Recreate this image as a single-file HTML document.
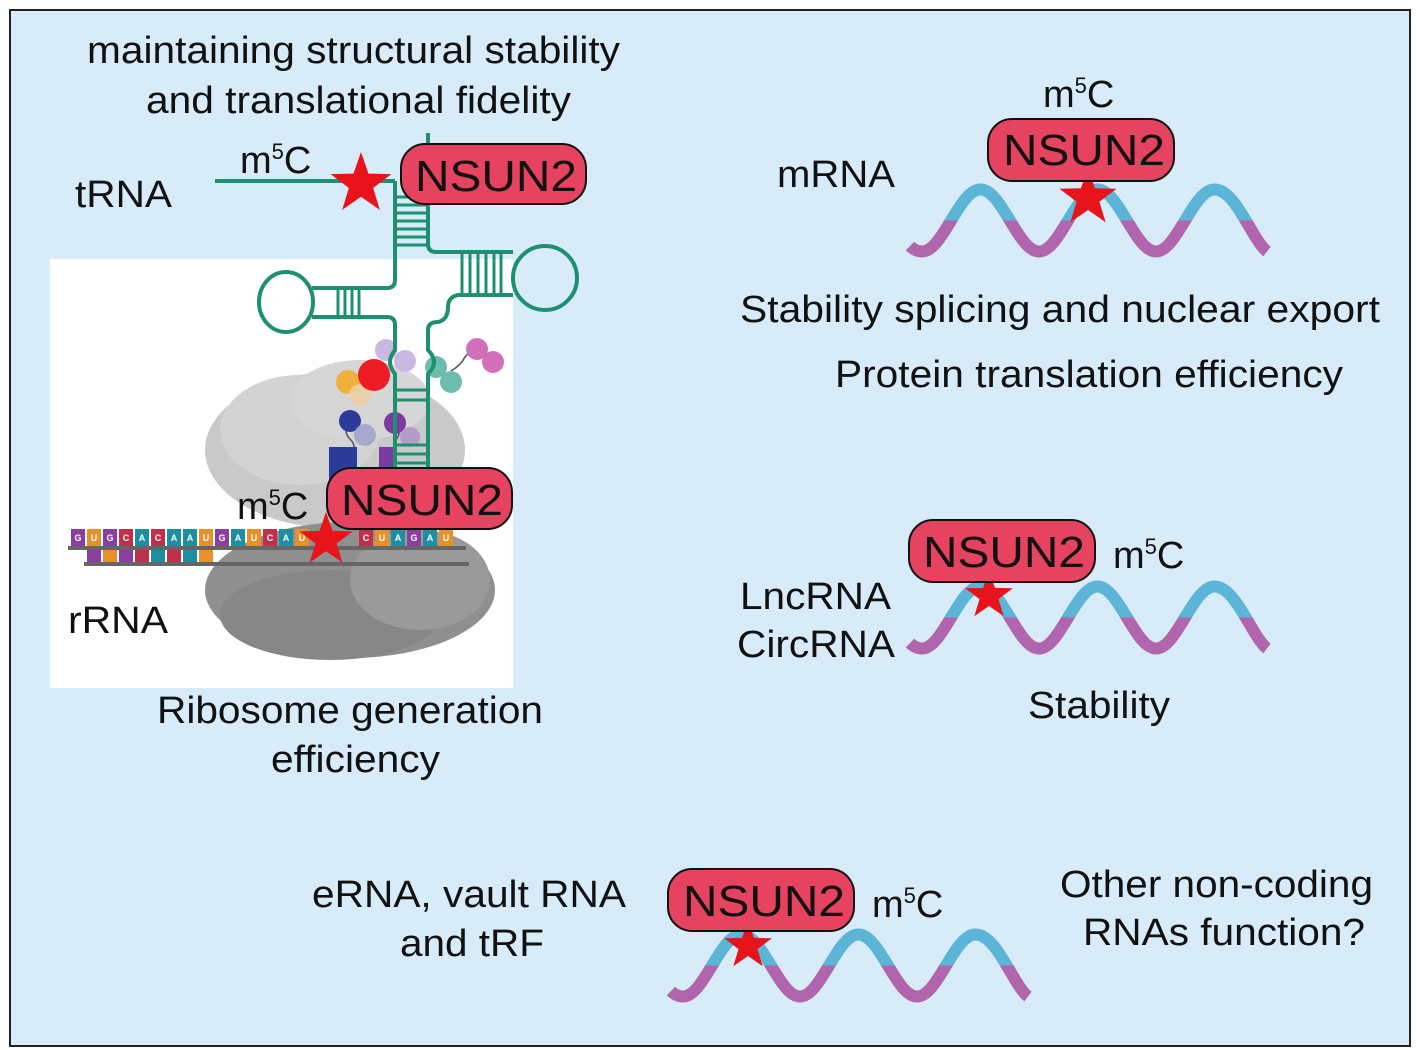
<!DOCTYPE html>
<html><head><meta charset="utf-8"><style>
html,body{margin:0;padding:0;background:#fff;}
svg{display:block;font-family:"Liberation Sans",Arial,sans-serif;}
</style></head><body>
<svg width="1417" height="1050" viewBox="0 0 1417 1050" xmlns="http://www.w3.org/2000/svg">
<defs>
<polygon id="star" points="0,-1 0.235,-0.324 0.951,-0.309 0.38,0.124 0.588,0.809 0,0.4 -0.588,0.809 -0.38,0.124 -0.951,-0.309 -0.235,-0.324" fill="#e8141c"/>
<clipPath id="topc"><rect x="0" y="0" width="2000" height="220.5"/></clipPath>
<clipPath id="botc"><rect x="0" y="220.5" width="2000" height="400"/></clipPath>
<path id="wv" d="M910,246 C914,250 918,251.5 922,251.5 C943,251.5 959,189.5 980.5,189.5 S1018,251.5 1039,251.5 S1076,189.5 1097.5,189.5 S1135,251.5 1156,251.5 S1193,189.5 1214.5,189.5 S1252,240 1267,251.5" fill="none" stroke-width="12"/>
<g id="wave">
<use href="#wv" stroke="#b065ac" clip-path="url(#botc)"/>
<use href="#wv" stroke="#5cb4d6" clip-path="url(#topc)"/>
</g>
</defs>
<rect x="0" y="0" width="1417" height="1050" fill="#fff"/>
<rect x="10" y="10" width="1400" height="1036" fill="#d7ebf8" stroke="#222" stroke-width="2"/>
<rect x="50" y="259" width="463" height="429" fill="#fff"/>

<!-- ribosome -->
<g>
<ellipse cx="335" cy="450" rx="130" ry="78" fill="#c9c9c9"/>
<ellipse cx="300" cy="430" rx="80" ry="55" fill="#d3d3d3"/>
<ellipse cx="360" cy="400" rx="70" ry="40" fill="#d6d6d6"/>
<ellipse cx="350" cy="590" rx="145" ry="68" fill="#8f8f8f"/>
<ellipse cx="330" cy="615" rx="110" ry="45" fill="#878787"/>
<ellipse cx="420" cy="580" rx="70" ry="50" fill="#9a9a9a"/>
</g>
<!-- proteins -->
<g stroke="#555" stroke-width="1.5" fill="none">
<path d="M350,421 q-8,10 0,18 q8,8 0,14"/><path d="M395,423 q8,10 0,18"/><path d="M451,371 q10,-6 14,-14 q6,-8 12,-8"/>
</g>
<rect x="329" y="447" width="28" height="43" fill="#2b3b9a"/>
<rect x="379" y="447" width="16" height="43" fill="#7a3aa0"/>
<circle cx="386" cy="350" r="11" fill="#c9b8e0"/><circle cx="405" cy="361" r="11" fill="#c9b8e0"/>
<circle cx="348" cy="382" r="12" fill="#f0b040"/><circle cx="360" cy="395" r="11" fill="#f0d0a0" opacity="0.8"/>
<circle cx="374" cy="375" r="16" fill="#ee1c25"/>
<circle cx="350" cy="421" r="11" fill="#2b3b9a"/><circle cx="365" cy="435" r="11" fill="#9aa0cc" opacity="0.8"/>
<circle cx="395" cy="423" r="11" fill="#7a3aa0"/><circle cx="410" cy="437" r="10" fill="#b090c8" opacity="0.8"/>
<circle cx="436" cy="367" r="11" fill="#6cbcb0"/><circle cx="451" cy="382" r="11" fill="#6cbcb0"/>
<circle cx="477" cy="349" r="11" fill="#d070b8"/><circle cx="493" cy="362" r="11" fill="#d070b8"/>

<!-- tRNA cloverleaf -->
<g stroke="#1f8f72" stroke-width="4" fill="none">
<line x1="215" y1="181" x2="395" y2="181"/>
<line x1="428" y1="133" x2="428" y2="150"/>
<path d="M395,181 L395,280 Q395,288 387,288 L312,288"/>
<ellipse cx="286" cy="302" rx="27" ry="30"/>
<path d="M312,317 L387,317 Q395,317 395,325 L395,350 Q385,362 395,374 L395,472"/>
<path d="M428,200 L428,244 Q428,252 436,252 L513,252"/>
<circle cx="545" cy="278" r="32"/>
<path d="M513,295 L458,295 Q448,297 448,307 Q448,320 438,322 Q428,322 428,330 L428,350 Q440,362 428,374 L428,472"/>
<g stroke-width="3">
<line x1="395" y1="197" x2="428" y2="197"/><line x1="395" y1="205" x2="428" y2="205"/><line x1="395" y1="213" x2="428" y2="213"/><line x1="395" y1="221" x2="428" y2="221"/><line x1="395" y1="229" x2="428" y2="229"/><line x1="395" y1="237" x2="428" y2="237"/><line x1="395" y1="245" x2="428" y2="245"/>
<line x1="338" y1="288" x2="338" y2="317"/><line x1="345" y1="288" x2="345" y2="317"/><line x1="352" y1="288" x2="352" y2="317"/><line x1="359" y1="288" x2="359" y2="317"/>
<line x1="462" y1="252" x2="462" y2="295"/><line x1="470" y1="252" x2="470" y2="295"/><line x1="478" y1="252" x2="478" y2="295"/><line x1="486" y1="252" x2="486" y2="295"/><line x1="494" y1="252" x2="494" y2="295"/><line x1="501" y1="252" x2="501" y2="295"/>
<line x1="395" y1="390" x2="428" y2="390"/><line x1="395" y1="400" x2="428" y2="400"/>
<line x1="395" y1="445" x2="428" y2="445"/><line x1="395" y1="454" x2="428" y2="454"/><line x1="395" y1="463" x2="428" y2="463"/>
</g>
</g>

<!-- mRNA tiles -->
<g font-size="9" font-weight="bold" fill="#fff" text-anchor="middle">
<rect x="68" y="546" width="398" height="4" fill="#666"/>
<rect x="84" y="562" width="385" height="4" fill="#666"/>
<g>
<rect x="71" y="529" width="14" height="17" fill="#8a3fa0"/><rect x="87" y="529" width="14" height="17" fill="#e8912a"/><rect x="103" y="529" width="14" height="17" fill="#8a3fa0"/><rect x="119" y="529" width="14" height="17" fill="#c0304a"/><rect x="135" y="529" width="14" height="17" fill="#1e8fa0"/><rect x="151" y="529" width="14" height="17" fill="#c0304a"/><rect x="167" y="529" width="14" height="17" fill="#1e8fa0"/><rect x="183" y="529" width="14" height="17" fill="#1e8fa0"/><rect x="199" y="529" width="14" height="17" fill="#e8912a"/><rect x="215" y="529" width="14" height="17" fill="#8a3fa0"/><rect x="231" y="529" width="14" height="17" fill="#1e8fa0"/><rect x="247" y="529" width="14" height="17" fill="#e8912a"/><rect x="263" y="529" width="14" height="17" fill="#c0304a"/><rect x="279" y="529" width="14" height="17" fill="#1e8fa0"/><rect x="295" y="529" width="14" height="17" fill="#e8912a"/><rect x="359" y="529" width="14" height="17" fill="#c0304a"/><rect x="375" y="529" width="14" height="17" fill="#e8912a"/><rect x="391" y="529" width="14" height="17" fill="#1e8fa0"/><rect x="407" y="529" width="14" height="17" fill="#8a3fa0"/><rect x="423" y="529" width="14" height="17" fill="#1e8fa0"/><rect x="439" y="529" width="14" height="17" fill="#e8912a"/>
<text x="78" y="541">G</text><text x="94" y="541">U</text><text x="110" y="541">G</text><text x="126" y="541">C</text><text x="142" y="541">A</text><text x="158" y="541">C</text><text x="174" y="541">A</text><text x="190" y="541">A</text><text x="206" y="541">U</text><text x="222" y="541">G</text><text x="238" y="541">A</text><text x="254" y="541">U</text><text x="270" y="541">C</text><text x="286" y="541">A</text><text x="302" y="541">U</text><text x="366" y="541">C</text><text x="382" y="541">U</text><text x="398" y="541">A</text><text x="414" y="541">G</text><text x="430" y="541">A</text><text x="446" y="541">U</text>
<rect x="87" y="550" width="14" height="12" fill="#8a3fa0"/><rect x="103" y="550" width="14" height="12" fill="#e8912a"/><rect x="119" y="550" width="14" height="12" fill="#8a3fa0"/><rect x="135" y="550" width="14" height="12" fill="#c0304a"/><rect x="151" y="550" width="14" height="12" fill="#1e8fa0"/><rect x="167" y="550" width="14" height="12" fill="#c0304a"/><rect x="183" y="550" width="14" height="12" fill="#1e8fa0"/><rect x="199" y="550" width="14" height="12" fill="#e8912a"/>
</g>
</g>

<!-- stars and pills -->
<use href="#star" transform="translate(361,184) scale(32)"/>
<use href="#star" transform="translate(326,540) scale(28)"/>
<g stroke="#111" stroke-width="2" fill="#e5435f">
<rect x="401" y="144" width="185" height="60" rx="24"/>
<rect x="327" y="468" width="185" height="61" rx="24"/>
</g>
<use href="#wave"/>
<use href="#star" transform="translate(1088,198) scale(30)"/>
<g transform="translate(0,397)"><use href="#wave"/></g>
<use href="#star" transform="translate(989,596) scale(25)"/>
<g transform="translate(-239,745)"><use href="#wave"/></g>
<use href="#star" transform="translate(748,946) scale(25)"/>
<g stroke="#111" stroke-width="2" fill="#e5435f">
<rect x="988" y="119" width="186" height="62" rx="24"/>
<rect x="909" y="520" width="186" height="62" rx="24"/>
<rect x="668" y="869" width="186" height="62" rx="24"/>
</g>

<g font-size="44" fill="#111" lengthAdjust="spacingAndGlyphs">
<text x="415" y="191" textLength="162" lengthAdjust="spacingAndGlyphs">NSUN2</text>
<text x="341" y="515" textLength="162" lengthAdjust="spacingAndGlyphs">NSUN2</text>
<text x="1003" y="165" textLength="162" lengthAdjust="spacingAndGlyphs">NSUN2</text>
<text x="923" y="567" textLength="162" lengthAdjust="spacingAndGlyphs">NSUN2</text>
<text x="683" y="916" textLength="162" lengthAdjust="spacingAndGlyphs">NSUN2</text>
</g>

<g font-size="38" fill="#111">
<text x="87" y="63" textLength="533" lengthAdjust="spacingAndGlyphs">maintaining structural stability</text>
<text x="146" y="113" textLength="425" lengthAdjust="spacingAndGlyphs">and translational fidelity</text>
<text x="75" y="207" textLength="97" lengthAdjust="spacingAndGlyphs">tRNA</text>
<text x="240" y="173">m<tspan font-size="22" dy="-14">5</tspan><tspan dy="14">C</tspan></text>
<text x="237" y="519">m<tspan font-size="22" dy="-14">5</tspan><tspan dy="14">C</tspan></text>
<text x="68" y="633" textLength="100" lengthAdjust="spacingAndGlyphs">rRNA</text>
<text x="157" y="723" textLength="386" lengthAdjust="spacingAndGlyphs">Ribosome generation</text>
<text x="271" y="772" textLength="169" lengthAdjust="spacingAndGlyphs">efficiency</text>
<text x="777" y="187" textLength="118" lengthAdjust="spacingAndGlyphs">mRNA</text>
<text x="1043" y="107">m<tspan font-size="22" dy="-14">5</tspan><tspan dy="14">C</tspan></text>
<text x="740" y="322" textLength="640" lengthAdjust="spacingAndGlyphs">Stability splicing and nuclear export</text>
<text x="835" y="387" textLength="508" lengthAdjust="spacingAndGlyphs">Protein translation efficiency</text>
<text x="1113" y="568">m<tspan font-size="22" dy="-14">5</tspan><tspan dy="14">C</tspan></text>
<text x="740" y="609" textLength="151" lengthAdjust="spacingAndGlyphs">LncRNA</text>
<text x="737" y="657" textLength="158" lengthAdjust="spacingAndGlyphs">CircRNA</text>
<text x="1028" y="718" textLength="142" lengthAdjust="spacingAndGlyphs">Stability</text>
<text x="312" y="907" textLength="314" lengthAdjust="spacingAndGlyphs">eRNA, vault RNA</text>
<text x="400" y="956" textLength="144" lengthAdjust="spacingAndGlyphs">and tRF</text>
<text x="872" y="917">m<tspan font-size="22" dy="-14">5</tspan><tspan dy="14">C</tspan></text>
<text x="1060" y="897" textLength="313" lengthAdjust="spacingAndGlyphs">Other non-coding</text>
<text x="1083" y="945" textLength="282" lengthAdjust="spacingAndGlyphs">RNAs function?</text>
</g>
</svg>
</body></html>
